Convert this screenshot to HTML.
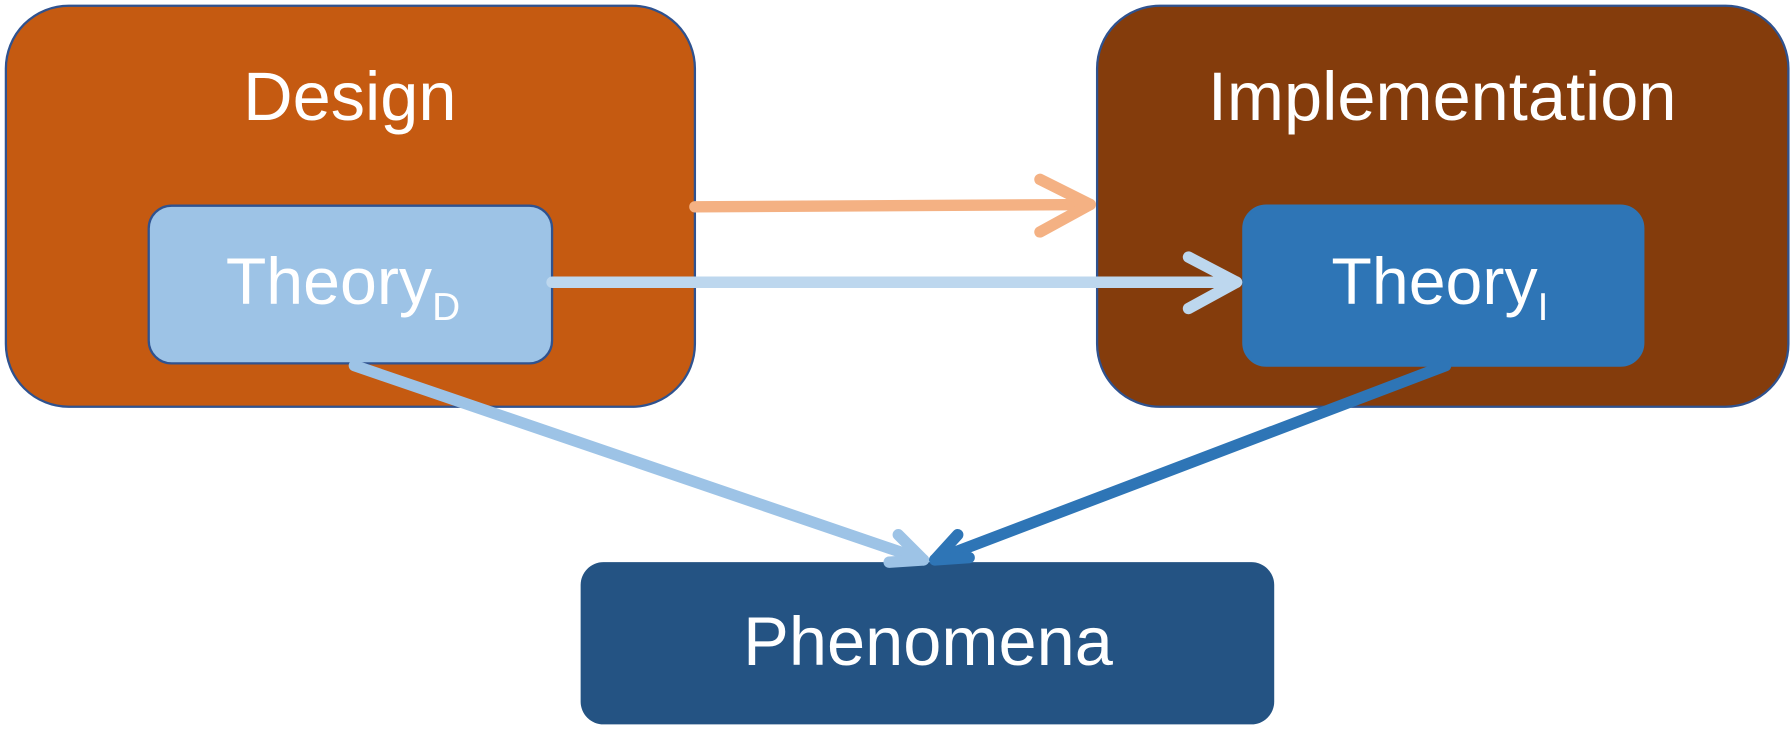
<!DOCTYPE html>
<html><head><meta charset="utf-8"><style>
html,body{margin:0;padding:0;background:#fff;}
svg{display:block;}
text{font-family:"Liberation Sans","DejaVu Sans",sans-serif;fill:#fff;}
</style></head><body>
<svg width="1792" height="737" viewBox="0 0 1568 645" xmlns="http://www.w3.org/2000/svg">
<rect x="5" y="5" width="603" height="351" rx="55" fill="#C55A11" stroke="#2F528F" stroke-width="2"/>
<rect x="960" y="5" width="605" height="351" rx="55" fill="#843C0C" stroke="#2F528F" stroke-width="2"/>
<text x="306" y="105" font-size="60" text-anchor="middle">Design</text>
<text x="1262" y="105" font-size="60" text-anchor="middle">Implementation</text>
<rect x="130" y="180" width="353" height="138" rx="20" fill="#9DC3E6" stroke="#2F528F" stroke-width="2"/>
<rect x="1088" y="180" width="350" height="140" rx="20" fill="#2E75B6" stroke="#2E75B6" stroke-width="2"/>
<text x="300" y="266" font-size="58" text-anchor="middle">Theory<tspan font-size="34" dy="14">D</tspan></text>
<text x="1260" y="266" font-size="58" text-anchor="middle">Theory<tspan font-size="34" dy="14">I</tspan></text>
<rect x="508" y="492" width="607" height="142" rx="20" fill="#245383"/>
<text x="812" y="582" font-size="60" text-anchor="middle">Phenomena</text>
<g fill="none" stroke-linecap="round" stroke-linejoin="round">
<path d="M608 181 L954 179" stroke="#F4B183" stroke-width="10"/>
<path d="M910 157 L954 179 L910 203" stroke="#F4B183" stroke-width="10"/>
<path d="M483 247 L1082 247" stroke="#BDD7EE" stroke-width="10"/>
<path d="M1040 225 L1082 247 L1040 270" stroke="#BDD7EE" stroke-width="10"/>
<path d="M310 320 L808 490" stroke="#9DC3E6" stroke-width="10"/>
<path d="M786 468 L808 490 L778 492" stroke="#9DC3E6" stroke-width="10"/>
<path d="M1265 320 L818 490" stroke="#2E75B6" stroke-width="10"/>
<path d="M838 468 L818 490 L848 488" stroke="#2E75B6" stroke-width="10"/>
</g>
</svg>
</body></html>
